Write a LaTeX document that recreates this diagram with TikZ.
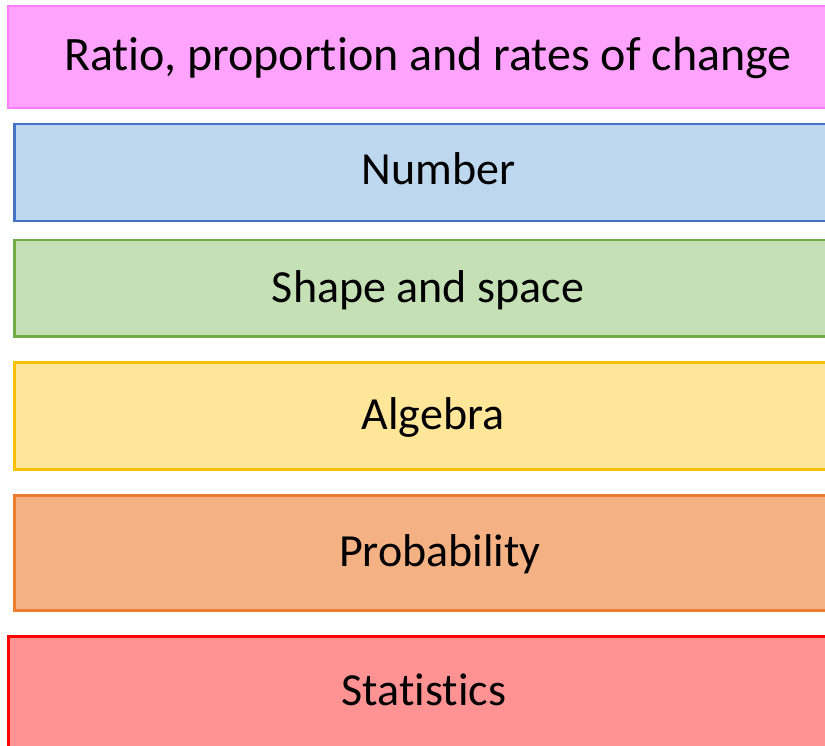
\documentclass[tikz,border=0pt]{standalone}
\usepackage{fontspec}
\setmainfont{Carlito}[RawFeature={-liga;-clig;-dlig}]
\definecolor{pinkfill}{HTML}{FFA3FF}
\definecolor{pinkline}{HTML}{FF7CFF}
\definecolor{bluefill}{HTML}{BDD7EE}
\definecolor{blueline}{HTML}{4472C4}
\definecolor{greenfill}{HTML}{C5E0B4}
\definecolor{greenline}{HTML}{70AD47}
\definecolor{yellowfill}{HTML}{FFE699}
\definecolor{yellowline}{HTML}{FFC000}
\definecolor{orangefill}{HTML}{F4B183}
\definecolor{orangeline}{HTML}{ED7D31}
\definecolor{redfill}{HTML}{FF9393}
\definecolor{redline}{HTML}{FF0000}
\tikzset{
  band/.style={rectangle, draw, line width=2.5pt, inner sep=0pt, anchor=north west},
  lbl/.style={anchor=base, inner sep=0pt, font=\fontsize{46}{50}\selectfont, text=black}
}
\begin{document}
\begin{tikzpicture}[x=1pt,y=-1pt]
\useasboundingbox (0,0) rectangle (825,746);
\clip (0,0) rectangle (825,746);
\node[band, fill=pinkfill, draw=pinkline, line width=2pt, minimum width=840pt, minimum height=102pt] (b1) at (7,5) {};
\node[band, fill=bluefill, draw=blueline, minimum width=840pt, minimum height=97pt] (b2) at (13,123) {};
\node[band, fill=greenfill, draw=greenline, minimum width=840pt, minimum height=96pt] (b3) at (13,239) {};
\node[band, fill=yellowfill, draw=yellowline, minimum width=840pt, minimum height=107pt] (b4) at (13,361) {};
\node[band, fill=orangefill, draw=orangeline, minimum width=840pt, minimum height=115pt] (b5) at (13,494) {};
\node[band, fill=redfill, draw=redline, minimum width=840pt, minimum height=130pt] (b6) at (7,635) {};
\node[lbl, font=\fontsize{48}{52}\selectfont] (t1) at (428,71) {Ratio, proportion and rates of change};
\node[lbl] (t2) at (438.5,185) {Number};
\node[lbl] (t3) at (428,302) {Shape and space};
\node[lbl] (t4) at (433,429) {Algebra};
\node[lbl] (t5) at (440,566) {Probability};
\node[lbl] (t6) at (424,705) {Statistics};
\end{tikzpicture}
\end{document}
